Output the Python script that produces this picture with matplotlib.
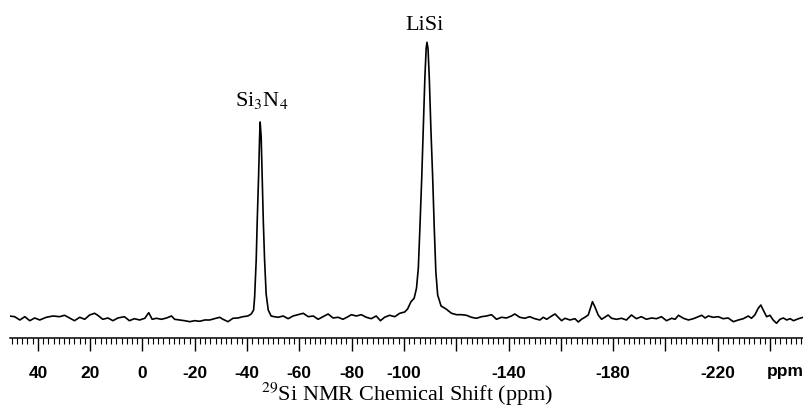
import numpy as np
import matplotlib
matplotlib.use('Agg')
import matplotlib.pyplot as plt
from matplotlib.ticker import MultipleLocator

plt.rcParams['mathtext.fontset'] = 'stix'

# 29Si spectrum (ppm, intensity in arbitrary units)
ppm = [50.8, 48.9, 46.9, 45.0, 43.1, 41.2, 39.3, 36.8, 34.2, 31.7, 29.8, 27.9,
       26.0, 24.0, 22.1, 20.2, 18.3, 17.1, 15.2, 13.2, 11.3, 9.4, 6.9, 5.0,
       3.1, 1.1, -0.9, -2.4, -3.7, -5.3, -7.3, -9.2, -11.1, -12.3, -14.2,
       -16.1, -18.1, -20.0, -21.9, -23.8, -25.7, -27.6, -29.5, -30.8, -32.7,
       -34.6, -36.5, -38.4, -40.3, -41.6,
       -42.5, -42.9, -43.5, -43.9, -44.4, -44.8, -45.0, -45.4, -45.8, -46.2,
       -46.7, -47.3, -48.1, -49.2,
       -50.4, -51.9, -53.8, -55.7, -57.6, -59.5, -61.5, -63.4, -65.3, -67.2,
       -69.1, -71.0, -72.9, -74.8, -76.7, -78.6, -79.9, -81.8, -83.7, -85.6,
       -87.5, -89.4, -91.0, -92.6, -94.5, -96.5, -98.4, -100.3, -101.4,
       -102.7, -103.9, -104.8, -105.5, -106.1, -106.8, -107.4, -108.0, -108.5,
       -108.8, -109.2, -109.7, -110.3, -111.0, -111.6, -112.2, -112.9, -114.2,
       -116.1, -118.2, -120.1, -122.0, -123.9, -125.8, -127.7, -129.7, -131.6,
       -133.5, -135.4, -137.3, -139.2, -141.1, -142.4, -144.3, -146.2, -148.1,
       -150.0, -152.0, -153.3, -154.6, -156.5, -157.8, -159.0, -160.3, -161.6,
       -163.5, -165.4, -166.7, -167.9, -169.2, -170.5, -171.1, -172.1, -173.0,
       -174.3, -175.6, -176.8, -178.1, -179.4, -181.3, -183.2, -185.1, -187.0,
       -188.9, -190.8, -192.7, -194.7, -196.6, -198.5, -200.4, -202.4, -203.7,
       -205.0, -206.9, -208.8, -210.7, -212.6, -213.9, -215.2, -216.4, -218.3,
       -220.2, -222.1, -224.0, -226.0, -227.9, -229.8, -231.7, -232.9, -234.2,
       -235.5, -236.5, -237.4, -238.7, -240.0, -241.2, -242.5, -243.8, -245.1,
       -246.4, -247.7, -249.0, -250.9, -252.7]
intensity = [2.0, 1.3, -2.0, 1.3, -2.7, 0.0, -2.0, 0.7, 2.0, 1.3, 2.7, 0.0,
             -2.7, 0.7, -1.3, 3.0, 4.7, 2.7, -1.3, 0.0, -2.7, 0.0, 1.3, -2.7,
             -0.7, -2.0, -0.3, 5.3, -1.3, -0.3, -1.3, 0.0, 2.0, -1.3, -2.0,
             -2.7, -3.7, -2.7, -3.3, -2.0, -2.0, -0.7, 0.7, -1.3, -3.7,
             -0.3, 0.0, 1.3, 2.0, 4.0,
             8, 21, 58, 98, 141, 181, 196, 181, 141, 98,
             58, 24, 8, 2,
             1.3, 0.7, 2.0, -0.7, 2.0, 3.3, 4.7, 1.3, 2.0, -1.3,
             1.3, 4.0, 0.0, 0.7, -1.3, 1.3, 3.3, 2.0, 3.3, 0.7,
             -0.7, 2.0, -2.7, 0.7, 2.7, 1.3, 4.7, 6.0, 9.0,
             16.3, 19.7, 29.7, 49.7, 89.7, 139.7, 189.7, 239.7, 269.7,
             275.7, 269.7, 239.7, 189.7, 139.7, 89.7, 46.3, 23.0, 12.0,
             9.0, 4.7, 3.3, 3.3, 2.7, 0.7, -0.3, 1.3, 2.0,
             3.3, -1.3, 0.7, 0.0, 2.0, 4.0, 0.7, -0.3, 1.3,
             -0.7, -2.0, 0.7, -1.3, 2.0, 4.0, 0.7, -2.7, -0.3,
             -2.0, -0.7, -4.0, -1.3, 0.7, 3.0, 8.0, 16.3, 11.3,
             3.0, -1.3, 0.7, 3.0, -0.3, -1.3, -0.3, -2.0, 3.0,
             -0.7, 1.3, -1.3, 0.0, -0.7, 1.3, -2.7, -0.3, -1.3,
             2.7, -0.3, -2.0, -0.7, 1.3, 2.7, 0.0, 2.0, 0.7,
             1.3, -0.7, 0.0, -3.7, -2.0, -0.7, 2.0, -0.3, 3.0,
             9.7, 13.0, 8.0, 1.3, 2.7, -2.0, -5.3, -1.3, 0.0,
             -2.0, -0.7, -2.7, -0.7, 0.7]

major_ticks = [40, 20, 0, -20, -40, -60, -80, -100, -120, -140, -160, -180, -200, -220, -240]
tick_labels = ['40', '20', '0', '-20', '-40', '-60', '-80', '-100', '', '-140', '', '-180', '', '-220', '']

peak_names = [r'Si$_3$N$_4$', 'LiSi']
peak_pos = [-45.8, -108.0]
peak_label_y = [212, 288]

fig = plt.figure(figsize=(8.04, 4.08), dpi=100)
ax = fig.add_axes([0.012, 0.1716, 0.987, 0.8162])
ax.plot(ppm, intensity, color='black', lw=1.2)
ax.set_xlim(50.8, -252.7)
ax.set_ylim(-20, 313)

for s in ['top', 'left', 'right']:
    ax.spines[s].set_visible(False)
ax.spines['bottom'].set_linewidth(1.1)
ax.set_yticks([])

ax.set_xticks(major_ticks)
ax.set_xticklabels(tick_labels, fontfamily='Liberation Sans', fontweight='bold', fontsize=12.5)
ax.xaxis.set_minor_locator(MultipleLocator(2))
ax.tick_params(axis='x', which='major', length=9, width=1.0, pad=11)
ax.tick_params(axis='x', which='minor', length=4, width=0.8)

ax.text(-246, -0.102, 'ppm', transform=ax.get_xaxis_transform(), ha='center', va='center',
        fontfamily='Liberation Sans', fontweight='bold', fontsize=12.5)

for name, x, y in zip(peak_names, peak_pos, peak_label_y):
    ax.text(x, y, name, ha='center', va='baseline', fontfamily='Liberation Serif', fontsize=16)

fig.text(407 / 804, 1 - 401 / 408, r'$^{29}$Si NMR Chemical Shift (ppm)', ha='center', va='baseline',
         fontfamily='Liberation Serif', fontsize=16)

fig.savefig('out.png', dpi=100)
